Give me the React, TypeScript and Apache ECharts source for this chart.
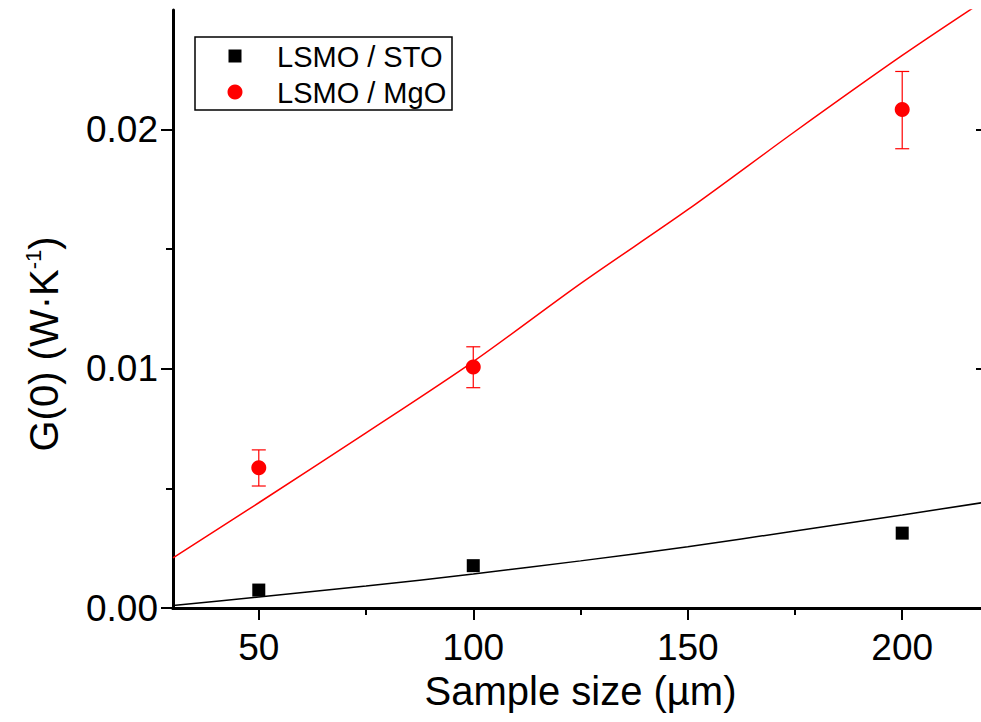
import React, { useEffect, useRef } from "react";
import * as echarts from "echarts";

const sizes = [50, 100, 200];
const stoValues = [0.00075, 0.00177, 0.00313];
const mgoValues = [0.00586, 0.01008, 0.02084];
const mgoErrLow = [0.0051, 0.00921, 0.0192];
const mgoErrHigh = [0.00661, 0.01092, 0.02243];

const fitX = [30, 50, 75, 100, 125, 150, 175, 200, 220];
const stoFit = [0.0001, 0.00046, 0.00092, 0.00142, 0.00197, 0.00256, 0.00322, 0.00389, 0.00444];
const mgoFit = [0.0021, 0.0044, 0.00732, 0.0103, 0.01356, 0.01665, 0.01992, 0.0231, 0.0255];

const xMajorTicks = [50, 100, 150, 200];
const xMinorTicks = [75, 125, 175];
const yMajorTicks = [0, 0.01, 0.02];
const yMinorTicks = [0.005, 0.015];

const seriesNames = ["LSMO / STO", "LSMO / MgO"];
const xTitle = "Sample size (µm)";

const FONT = "'Liberation Sans', Arial, Helvetica, sans-serif";

export default function App() {
  const ref = useRef<HTMLDivElement>(null);
  useEffect(() => {
    if (!ref.current) return;
    const chart = echarts.init(ref.current, null, { renderer: "svg" });
    const gridBox = { left: 173, right: 12, top: 10, bottom: 114 };
    const line = { show: true, lineStyle: { color: "#000", width: 3 } };
    const noLine = { show: false };
    const tickStyle = { color: "#000", width: 2 };
    const option: any = {
      animation: false,
      backgroundColor: "#fff",
      textStyle: { fontFamily: FONT },
      grid: [
        { ...gridBox },
        { ...gridBox },
      ],
      xAxis: [
        {
          type: "value", gridIndex: 0, position: "bottom", min: 30, max: 220,
          axisLine: line, splitLine: { show: false },
          axisTick: { show: true, customValues: xMajorTicks, length: 12, inside: false, lineStyle: tickStyle },
          axisLabel: { show: true, customValues: xMajorTicks, fontSize: 37, color: "#000", margin: 21, fontFamily: FONT },
          name: xTitle, nameLocation: "middle", nameGap: 60,
          nameTextStyle: { fontSize: 40, color: "#000", fontFamily: FONT },
        },
        {
          type: "value", gridIndex: 0, position: "top", min: 30, max: 220,
          axisLine: line, splitLine: { show: false },
          axisTick: { show: true, customValues: xMajorTicks, length: 12, inside: true, lineStyle: tickStyle },
          axisLabel: { show: false },
        },
        {
          type: "value", gridIndex: 1, position: "bottom", min: 30, max: 220,
          axisLine: noLine, splitLine: { show: false },
          axisTick: { show: true, customValues: xMinorTicks, length: 7, inside: false, lineStyle: tickStyle },
          axisLabel: { show: false },
        },
        {
          type: "value", gridIndex: 1, position: "top", min: 30, max: 220,
          axisLine: noLine, splitLine: { show: false },
          axisTick: { show: true, customValues: xMinorTicks, length: 7, inside: true, lineStyle: tickStyle },
          axisLabel: { show: false },
        },
      ],
      yAxis: [
        {
          type: "value", gridIndex: 0, position: "left", min: 0, max: 0.025,
          axisLine: line, splitLine: { show: false },
          axisTick: { show: true, customValues: yMajorTicks, length: 12, inside: false, lineStyle: tickStyle },
          axisLabel: {
            show: true, customValues: yMajorTicks, fontSize: 37, color: "#000", margin: 15, fontFamily: FONT,
            formatter: (v: number) => v.toFixed(2),
          },
        },
        {
          type: "value", gridIndex: 0, position: "right", min: 0, max: 0.025,
          axisLine: line, splitLine: { show: false },
          axisTick: { show: true, customValues: yMajorTicks, length: 12, inside: true, lineStyle: tickStyle },
          axisLabel: { show: false },
        },
        {
          type: "value", gridIndex: 1, position: "left", min: 0, max: 0.025,
          axisLine: noLine, splitLine: { show: false },
          axisTick: { show: true, customValues: yMinorTicks, length: 7, inside: false, lineStyle: tickStyle },
          axisLabel: { show: false },
        },
        {
          type: "value", gridIndex: 1, position: "right", min: 0, max: 0.025,
          axisLine: noLine, splitLine: { show: false },
          axisTick: { show: true, customValues: yMinorTicks, length: 7, inside: true, lineStyle: tickStyle },
          axisLabel: { show: false },
        },
      ],
      series: [
        {
          name: seriesNames[0] + " fit", type: "line", xAxisIndex: 0, yAxisIndex: 0,
          data: fitX.map((x, i) => [x, stoFit[i]]), showSymbol: false, smooth: 0.3, clip: true,
          lineStyle: { color: "#000", width: 1.5 }, z: 2,
        },
        {
          name: seriesNames[1] + " fit", type: "line", xAxisIndex: 0, yAxisIndex: 0,
          data: fitX.map((x, i) => [x, mgoFit[i]]), showSymbol: false, smooth: 0.3, clip: true,
          lineStyle: { color: "#ff0000", width: 1.5 }, z: 2,
        },
        {
          name: seriesNames[1] + " error", type: "custom", xAxisIndex: 0, yAxisIndex: 0,
          data: sizes.map((x, i) => [x, mgoErrLow[i], mgoErrHigh[i]]),
          encode: { x: 0, y: [1, 2] }, z: 3,
          renderItem: (params: any, api: any) => {
            const x = api.value(0);
            const lo = api.coord([x, api.value(1)]);
            const hi = api.coord([x, api.value(2)]);
            const w = 7;
            const st = { stroke: "#ff0000", lineWidth: 1.2 };
            return {
              type: "group",
              children: [
                { type: "line", shape: { x1: lo[0], y1: lo[1], x2: hi[0], y2: hi[1] }, style: st },
                { type: "line", shape: { x1: lo[0] - w, y1: lo[1], x2: lo[0] + w, y2: lo[1] }, style: st },
                { type: "line", shape: { x1: hi[0] - w, y1: hi[1], x2: hi[0] + w, y2: hi[1] }, style: st },
              ],
            };
          },
        },
        {
          name: seriesNames[0], type: "scatter", xAxisIndex: 0, yAxisIndex: 0,
          data: sizes.map((x, i) => [x, stoValues[i]]),
          symbol: "rect", symbolSize: 13, itemStyle: { color: "#000", opacity: 1 }, z: 4,
        },
        {
          name: seriesNames[1], type: "scatter", xAxisIndex: 0, yAxisIndex: 0,
          data: sizes.map((x, i) => [x, mgoValues[i]]),
          symbol: "circle", symbolSize: 15, itemStyle: { color: "#ff0000", opacity: 1 }, z: 4,
        },
      ],
      graphic: [
        {
          type: "text", x: 44, y: 344, rotation: Math.PI / 2, z: 10,
          style: {
            text: "G(0) (W·K{sup|-1})",
            fontSize: 40, fontFamily: FONT, fill: "#000",
            align: "center", verticalAlign: "middle",
            rich: { sup: { fontSize: 22, fontFamily: FONT, fill: "#000", padding: [0, 0, 22, 0] } },
          },
        },
        {
          type: "group", z: 10,
          children: [
            { type: "rect", shape: { x: 195, y: 37, width: 257, height: 73 }, style: { fill: "#fff", stroke: "#000", lineWidth: 1.5 } },
            { type: "rect", shape: { x: 228.5, y: 49.5, width: 13, height: 13 }, style: { fill: "#000" } },
            { type: "circle", shape: { cx: 235, cy: 92, r: 7.5 }, style: { fill: "#ff0000" } },
            { type: "text", x: 277, y: 57, style: { text: seriesNames[0], fontSize: 29, fontFamily: FONT, fill: "#000", verticalAlign: "middle" } },
            { type: "text", x: 277, y: 93, style: { text: seriesNames[1], fontSize: 29, fontFamily: FONT, fill: "#000", verticalAlign: "middle" } },
          ],
        },
      ],
    };
    chart.setOption(option);
    return () => chart.dispose();
  }, []);
  return (
    <div style={{ position: "fixed", left: 0, top: 0, width: 981, height: 722, overflow: "hidden", background: "#fff" }}>
      <div ref={ref} style={{ width: 1000, height: 722 }} />
    </div>
  );
}
